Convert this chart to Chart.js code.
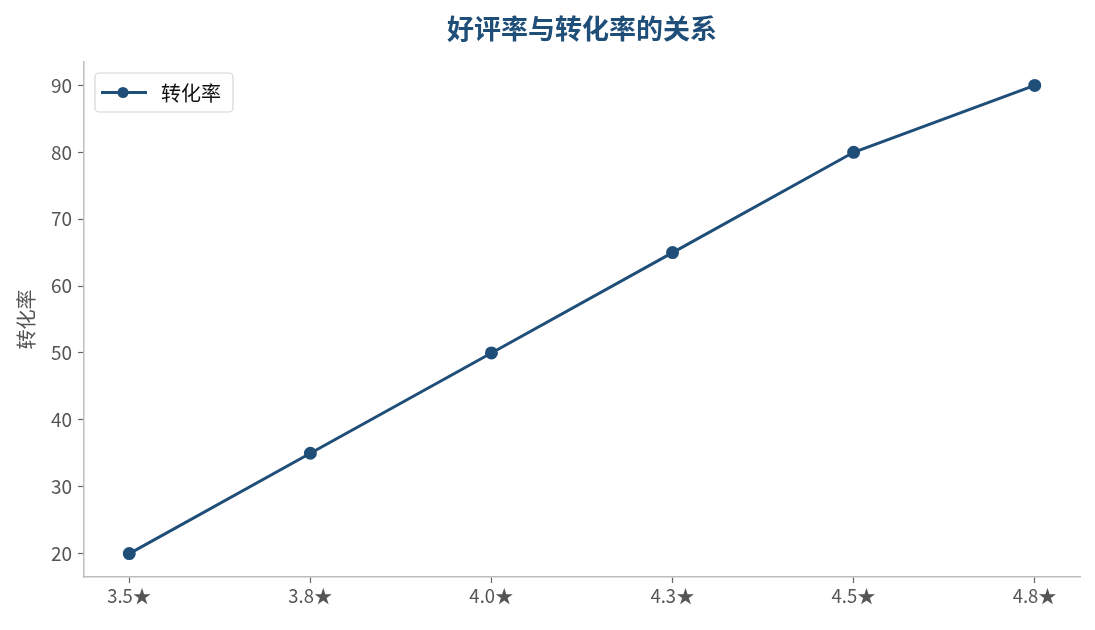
<!DOCTYPE html>
<html>
<head>
<meta charset="utf-8">
<script src="https://cdn.jsdelivr.net/npm/chart.js@4"></script>
<style>
  html, body { margin: 0; padding: 0; background: #fff; }
  #wrap { width: 1095px; height: 630px; }
</style>
</head>
<body>
<div id="wrap"><canvas id="rateChart" width="1095" height="630"></canvas></div>
<script>
// data
const ratings = ['3.5★', '3.8★', '4.0★', '4.3★', '4.5★', '4.8★'];
const conversion = [20, 35, 50, 65, 80, 90];
const yTicks = [20, 30, 40, 50, 60, 70, 80, 90];
const chartTitle = '好评率与转化率的关系';

const FONT = "'Noto Sans CJK SC', 'Noto Sans', sans-serif";
const BLUE = '#1f4e79';
const AXIS = '#bdbdbd';

// title centred over the plot area, legend inside it top-left
const overlay = {
    id: 'overlay',
    afterDraw(chart) {
        const ctx = chart.ctx;
        const area = chart.chartArea;
        ctx.save();
        ctx.fillStyle = BLUE;
        ctx.font = 'bold 27px ' + FONT;
        ctx.textAlign = 'center';
        ctx.textBaseline = 'middle';
        ctx.fillText(chartTitle, (area.left + area.right) / 2, 29);

        const ds = chart.data.datasets[0];
        const x = area.left + 11, y = area.top + 11;
        const w = 138, h = 39;
        ctx.fillStyle = 'rgba(255,255,255,0.9)';
        ctx.strokeStyle = '#d6d6d6';
        ctx.lineWidth = 1.2;
        ctx.beginPath();
        ctx.roundRect(x, y, w, h, 4);
        ctx.fill();
        ctx.stroke();
        const cy = y + h / 2;
        ctx.strokeStyle = ds.borderColor;
        ctx.lineWidth = 3;
        ctx.beginPath();
        ctx.moveTo(x + 6, cy);
        ctx.lineTo(x + 52, cy);
        ctx.stroke();
        ctx.fillStyle = ds.borderColor;
        ctx.beginPath();
        ctx.arc(x + 28, cy, 5.5, 0, Math.PI * 2);
        ctx.fill();
        ctx.fillStyle = '#111';
        ctx.font = '20px ' + FONT;
        ctx.textAlign = 'left';
        ctx.fillText(ds.label, x + 66, cy + 1);
        ctx.restore();
    }
};

new Chart(document.getElementById('rateChart').getContext('2d'), {
    type: 'line',
    data: {
        datasets: [{
            label: '转化率',
            data: conversion.map((v, i) => ({ x: i, y: v })),
            borderColor: BLUE,
            backgroundColor: BLUE,
            borderWidth: 3,
            pointRadius: 5,
            pointHoverRadius: 5,
            tension: 0
        }]
    },
    options: {
        responsive: false,
        animation: false,
        layout: { padding: { left: 0, right: 15, top: 62, bottom: 0 } },
        plugins: {
            legend: { display: false },
            tooltip: { enabled: false },
            title: { display: false }
        },
        scales: {
            x: {
                type: 'linear',
                min: -0.25,
                max: ratings.length - 0.75,
                afterBuildTicks: (scale) => {
                    scale.ticks = ratings.map((_, i) => ({ value: i }));
                },
                afterFit: (scale) => { scale.height = 53; },
                ticks: {
                    callback: (v) => ratings[v],
                    color: '#555',
                    font: { family: FONT, size: 18.5 },
                    padding: 2
                },
                grid: { drawOnChartArea: false, tickLength: 6, color: '#666', tickWidth: 1.2 },
                border: { color: AXIS, width: 1.5 }
            },
            y: {
                min: 16.5,
                max: 93.5,
                afterBuildTicks: (scale) => {
                    scale.ticks = yTicks.map(v => ({ value: v }));
                },
                afterFit: (scale) => { scale.width = 84; },
                ticks: {
                    color: '#555',
                    font: { family: FONT, size: 19 },
                    padding: 6
                },
                grid: { drawOnChartArea: false, tickLength: 6, color: '#666', tickWidth: 1.2 },
                border: { color: AXIS, width: 1.5 },
                title: {
                    display: true,
                    text: '转化率',
                    color: '#555',
                    font: { family: FONT, size: 20 },
                    padding: { top: 14, bottom: 0 }
                }
            }
        }
    },
    plugins: [overlay]
});
</script>
</body>
</html>
